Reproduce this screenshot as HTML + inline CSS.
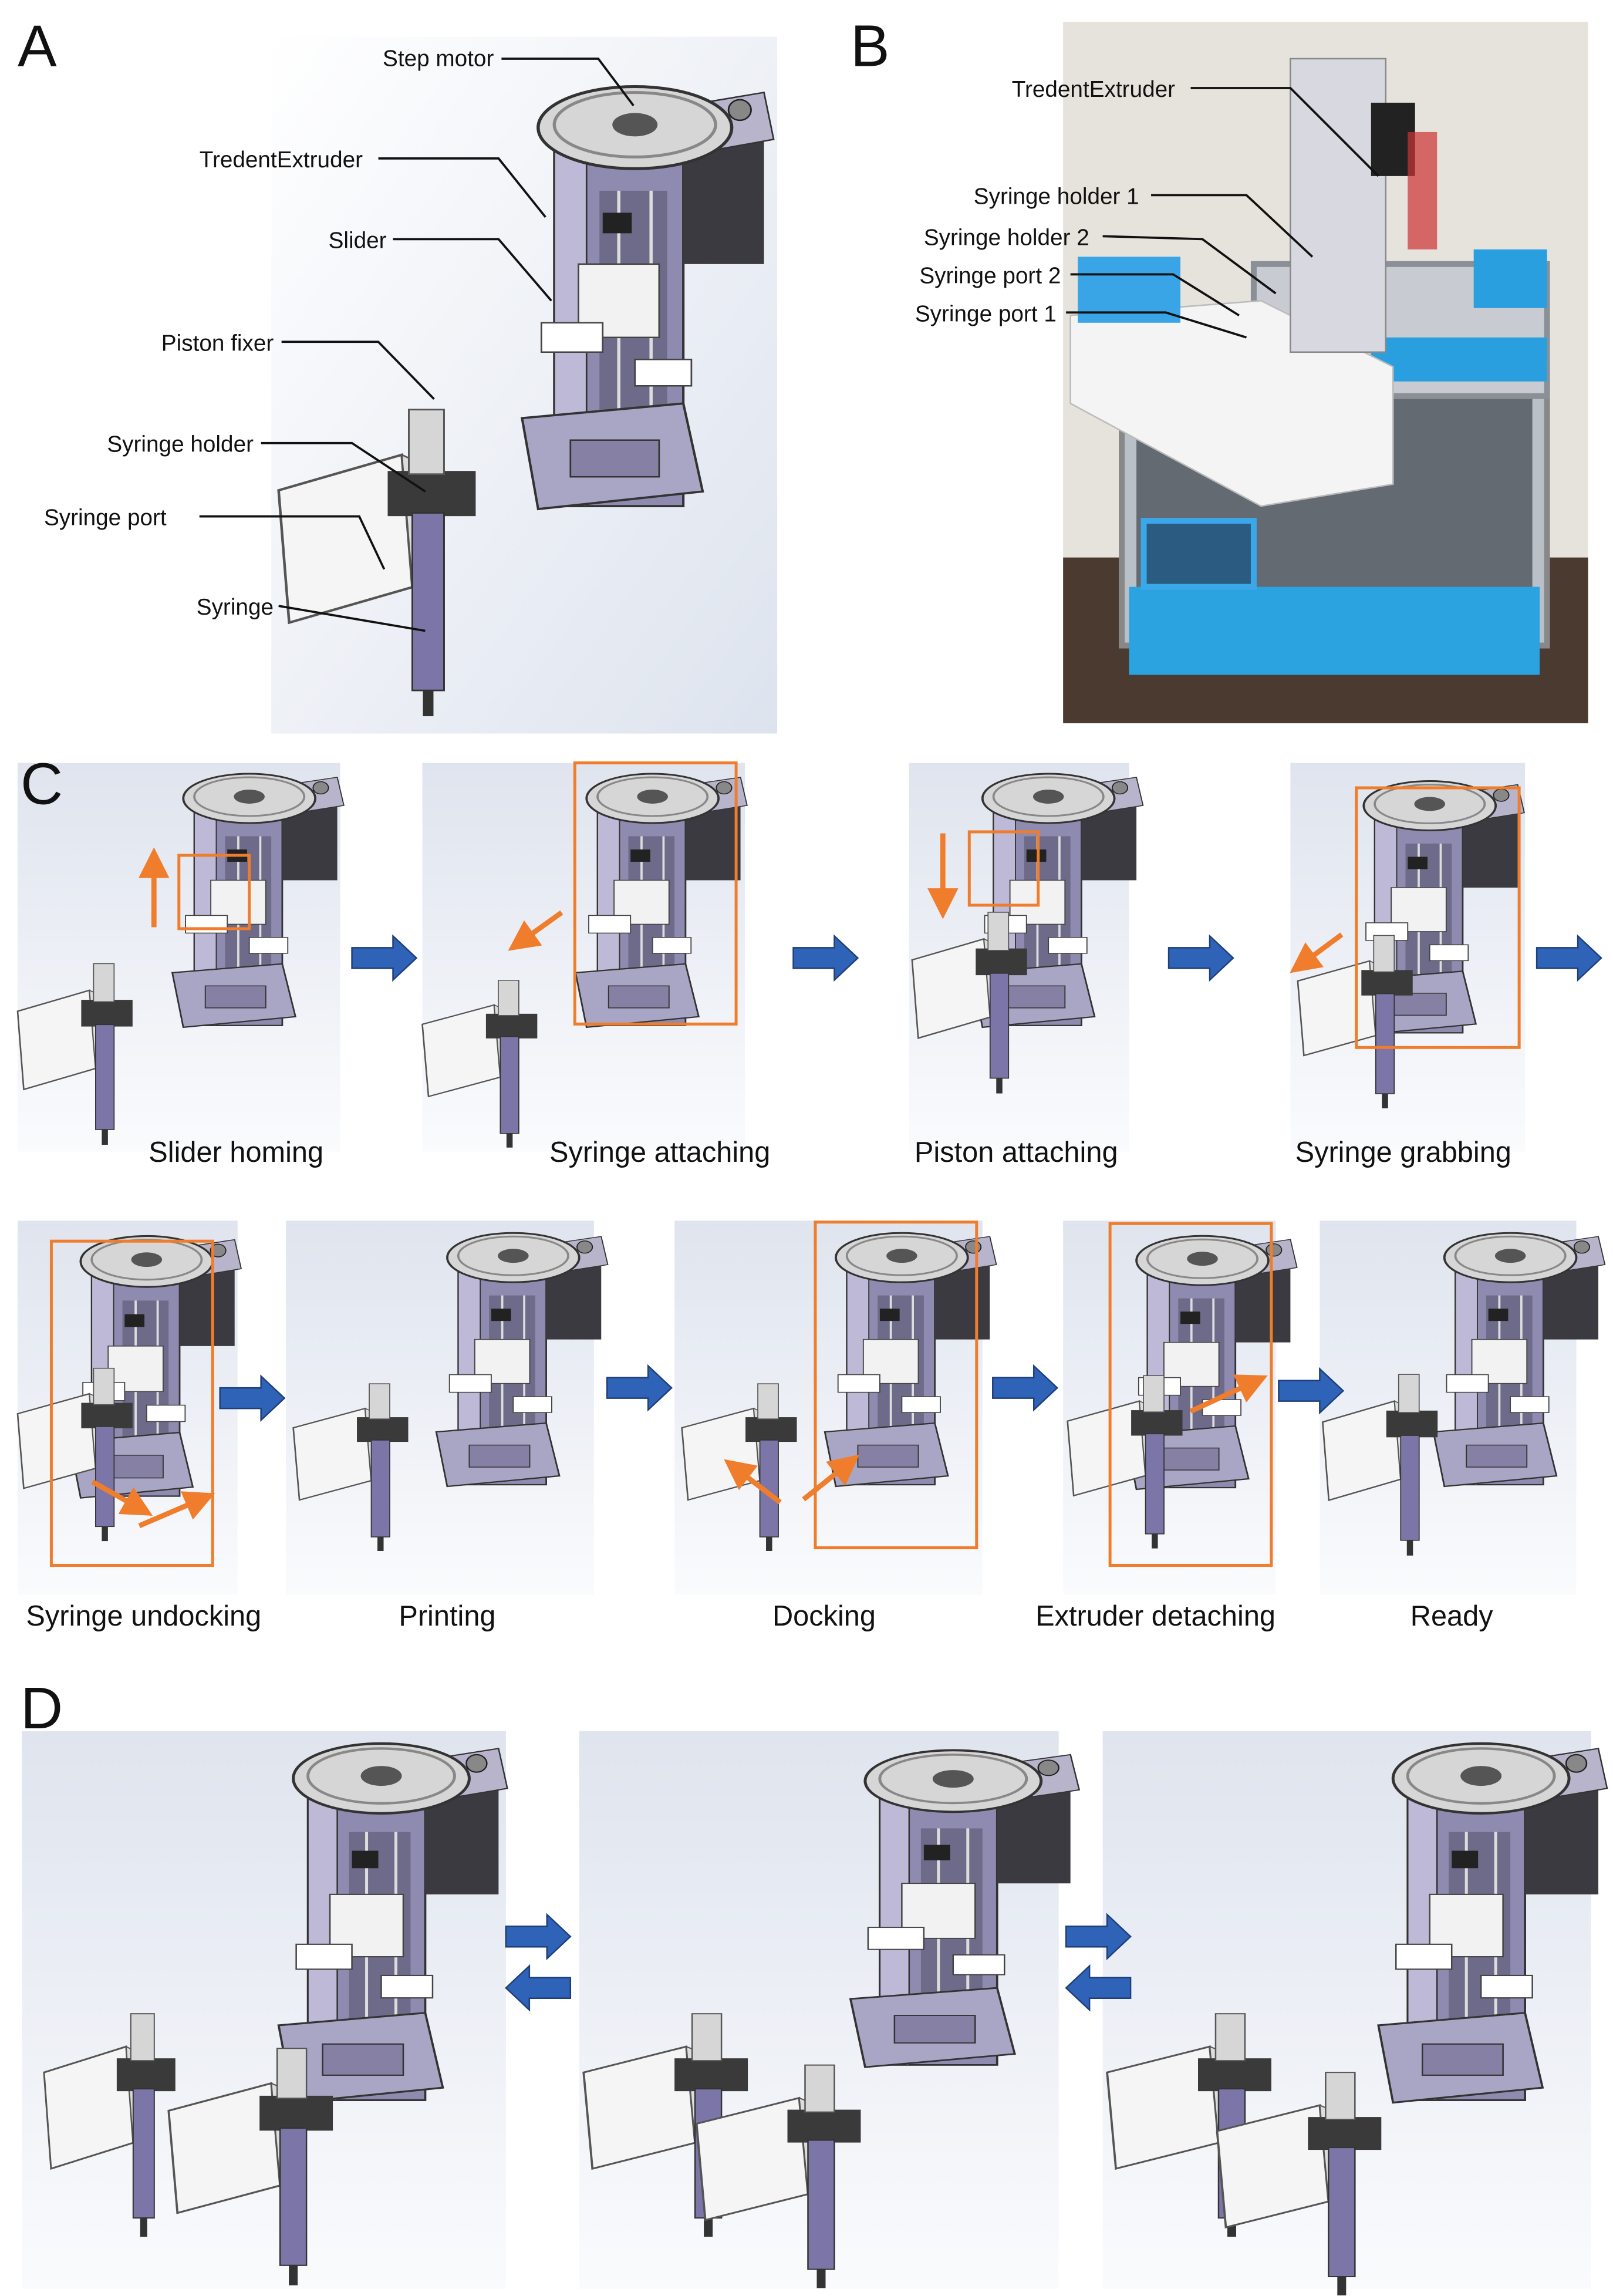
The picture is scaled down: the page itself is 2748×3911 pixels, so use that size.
<!DOCTYPE html>
<html><head><meta charset="utf-8"><style>
html,body{margin:0;padding:0;background:#fff}
svg{display:block}
text{font-family:"Liberation Sans",Arial,sans-serif;fill:#111}
</style></head><body>
<svg width="2748" height="3911" viewBox="0 0 1100 1565" preserveAspectRatio="none" xmlns="http://www.w3.org/2000/svg">
<defs>
<linearGradient id="bg" x1="0" y1="0" x2="1" y2="1">
<stop offset="0" stop-color="#ffffff"/><stop offset="1" stop-color="#dde3ee"/></linearGradient>
<linearGradient id="bgv" x1="0" y1="0" x2="0" y2="1">
<stop offset="0" stop-color="#dfe4ee"/><stop offset="1" stop-color="#fafbfd"/></linearGradient>
<marker id="ob" markerWidth="6" markerHeight="6" refX="3" refY="3" orient="auto"><path d="M0,0 L6,3 L0,6z" fill="#ef7d2c"/></marker>
<g id="ext">
<rect x="30" y="40" width="80" height="250" fill="#8f8bb0" stroke="#333" stroke-width="1.5"/>
<rect x="30" y="40" width="20" height="250" fill="#bdb9d6" stroke="#333" stroke-width="1"/>
<rect x="58" y="75" width="42" height="150" fill="#6e6a8a"/>
<line x1="70" y1="75" x2="70" y2="225" stroke="#ddd" stroke-width="2"/>
<line x1="90" y1="75" x2="90" y2="225" stroke="#ddd" stroke-width="2"/>
<rect x="110" y="30" width="50" height="95" fill="#3b3a40"/>
<polygon points="95,20 160,8 166,40 105,52" fill="#b8b4cc" stroke="#333"/>
<circle cx="145" cy="20" r="7" fill="#888" stroke="#222"/>
<ellipse cx="80" cy="32" rx="60" ry="28" fill="#d6d6d6" stroke="#333" stroke-width="2"/>
<ellipse cx="80" cy="30" rx="50" ry="22" fill="none" stroke="#888" stroke-width="2"/>
<ellipse cx="80" cy="30" rx="14" ry="8" fill="#555"/>
<rect x="45" y="125" width="50" height="50" fill="#f2f2f2" stroke="#444"/>
<rect x="22" y="165" width="38" height="20" fill="#fff" stroke="#444"/>
<rect x="80" y="190" width="35" height="18" fill="#fff" stroke="#444"/>
<polygon points="10,230 110,220 122,280 20,292" fill="#a9a5c4" stroke="#333" stroke-width="1.5"/>
<rect x="40" y="245" width="55" height="25" fill="#8580a4" stroke="#333"/>
<rect x="60" y="90" width="18" height="14" fill="#222"/>
</g>
<g id="syr">
<polygon points="0,22 70,0 76,82 6,104" fill="#f5f5f5" stroke="#555" stroke-width="1.5"/>
<polygon points="70,0 78,4 84,84 76,82" fill="#ddd" stroke="#555"/>
<rect x="62" y="10" width="50" height="28" fill="#3a3a3a"/>
<rect x="74" y="-28" width="20" height="40" fill="#d6d6d6" stroke="#555"/>
<rect x="76" y="36" width="18" height="110" fill="#7c76a8" stroke="#333"/>
<rect x="82" y="146" width="6" height="16" fill="#333"/>
</g>
</defs>

<!-- Panel A -->
<rect x="185" y="25" width="345" height="475" fill="url(#bg)"/>
<use href="#ext" transform="translate(345,55) scale(1.1,1.0)"/>
<use href="#syr" transform="translate(190,310) scale(1.2,1.1)"/>
<g font-size="15.5">
<text x="261" y="45">Step motor</text>
<text x="136" y="114">TredentExtruder</text>
<text x="224" y="169">Slider</text>
<text x="110" y="239">Piston fixer</text>
<text x="73" y="308">Syringe holder</text>
<text x="30" y="358">Syringe port</text>
<text x="134" y="419">Syringe</text>
</g>
<g stroke="#111" stroke-width="1.5" fill="none">
<polyline points="342,40 408,40 432,72"/>
<polyline points="258,108 340,108 372,148"/>
<polyline points="268,163 340,163 376,205"/>
<polyline points="192,233 258,233 296,272"/>
<polyline points="178,302 240,302 290,335"/>
<polyline points="136,352 245,352 262,388"/>
<polyline points="190,413 290,430"/>
</g>

<!-- Panel B -->
<rect x="725" y="15" width="358" height="478" fill="#e6e2dc"/>
<rect x="725" y="380" width="358" height="113" fill="#4a3a30"/>
<rect x="765" y="250" width="290" height="190" fill="#b9c0c8" stroke="#888" stroke-width="4"/>
<rect x="775" y="260" width="270" height="170" fill="#2b3038" opacity="0.6"/>
<rect x="770" y="400" width="280" height="60" fill="#2aa3e0"/>
<rect x="780" y="355" width="75" height="45" fill="#2b5b80" stroke="#3aa8e8" stroke-width="4"/>
<rect x="855" y="180" width="200" height="90" fill="#c8ccd2" stroke="#8a9096" stroke-width="4"/>
<rect x="935" y="230" width="120" height="30" fill="#2a9fe0"/>
<polygon points="730,215 860,205 950,250 950,330 860,345 730,275" fill="#f4f4f4" stroke="#bbb"/>
<rect x="735" y="175" width="70" height="45" fill="#3aa5e6"/>
<rect x="880" y="40" width="65" height="200" fill="#d8d8e0" stroke="#888"/>
<rect x="935" y="70" width="30" height="50" fill="#222"/>
<rect x="960" y="90" width="20" height="80" fill="#c33" opacity="0.7"/>
<rect x="1005" y="170" width="50" height="40" fill="#2a9fe0"/>
<g font-size="15.5">
<text x="690" y="66">TredentExtruder</text>
<text x="664" y="139">Syringe holder 1</text>
<text x="630" y="167">Syringe holder 2</text>
<text x="627" y="193">Syringe port 2</text>
<text x="624" y="219">Syringe port 1</text>
</g>
<g stroke="#111" stroke-width="1.5" fill="none">
<polyline points="812,60 880,60 940,120"/>
<polyline points="785,133 850,133 895,175"/>
<polyline points="752,161 820,163 870,200"/>
<polyline points="730,187 800,187 845,215"/>
<polyline points="727,213 795,213 850,230"/>
</g>

<!-- Panel C -->
<rect x="12" y="520" width="220" height="265" fill="url(#bgv)"/>
<rect x="288" y="520" width="220" height="265" fill="url(#bgv)"/>
<rect x="620" y="520" width="150" height="265" fill="url(#bgv)"/>
<rect x="880" y="520" width="160" height="265" fill="url(#bgv)"/>
<use href="#ext" transform="translate(110,525) scale(0.75,0.6)"/>
<use href="#syr" transform="translate(12,675) scale(0.7,0.65)"/>
<use href="#ext" transform="translate(385,525) scale(0.75,0.6)"/>
<use href="#syr" transform="translate(288,685) scale(0.7,0.6)"/>
<use href="#ext" transform="translate(655,525) scale(0.75,0.6)"/>
<use href="#syr" transform="translate(622,640) scale(0.7,0.65)"/>
<use href="#ext" transform="translate(915,530) scale(0.75,0.6)"/>
<use href="#syr" transform="translate(885,655) scale(0.7,0.62)"/>

<rect x="12" y="832" width="150" height="255" fill="url(#bgv)"/>
<rect x="195" y="832" width="210" height="255" fill="url(#bgv)"/>
<rect x="460" y="832" width="210" height="255" fill="url(#bgv)"/>
<rect x="725" y="832" width="145" height="255" fill="url(#bgv)"/>
<rect x="900" y="832" width="175" height="255" fill="url(#bgv)"/>
<use href="#ext" transform="translate(40,840) scale(0.75,0.62)"/>
<use href="#syr" transform="translate(12,950) scale(0.7,0.62)"/>
<use href="#ext" transform="translate(290,838) scale(0.75,0.6)"/>
<use href="#syr" transform="translate(200,960) scale(0.7,0.6)"/>
<use href="#ext" transform="translate(555,838) scale(0.75,0.6)"/>
<use href="#syr" transform="translate(465,960) scale(0.7,0.6)"/>
<use href="#ext" transform="translate(760,840) scale(0.75,0.6)"/>
<use href="#syr" transform="translate(728,955) scale(0.7,0.62)"/>
<use href="#ext" transform="translate(970,838) scale(0.75,0.6)"/>
<use href="#syr" transform="translate(902,955) scale(0.7,0.65)"/>

<g fill="none" stroke="#ef7d2c" stroke-width="2">
<rect x="122" y="583" width="48" height="50"/>
<rect x="392" y="520" width="110" height="178"/>
<rect x="661" y="567" width="47" height="50"/>
<rect x="925" y="537" width="111" height="177"/>
<rect x="35" y="846" width="110" height="221"/>
<rect x="556" y="833" width="110" height="222"/>
<rect x="757" y="834" width="110" height="233"/>
</g>
<g stroke="#ef7d2c" stroke-width="3.5" marker-end="url(#ob)">
<line x1="105" y1="632" x2="105" y2="588"/>
<line x1="383" y1="622" x2="355" y2="642"/>
<line x1="643" y1="568" x2="643" y2="616"/>
<line x1="915" y1="637" x2="888" y2="657"/>
<line x1="63" y1="1010" x2="95" y2="1028"/>
<line x1="95" y1="1040" x2="137" y2="1022"/>
<line x1="532" y1="1024" x2="502" y2="1001"/>
<line x1="548" y1="1022" x2="578" y2="998"/>
<line x1="812" y1="962" x2="855" y2="942"/>
</g>
<g fill="#2f63b8" stroke="#1f3f7a" stroke-width="1">
<polygon points="240,646 268,646 268,638 284,653 268,668 268,660 240,660"/>
<polygon points="541,646 569,646 569,638 585,653 569,668 569,660 541,660"/>
<polygon points="797,646 825,646 825,638 841,653 825,668 825,660 797,660"/>
<polygon points="1048,646 1076,646 1076,638 1092,653 1076,668 1076,660 1048,660"/>
<polygon points="150,946 178,946 178,938 194,953 178,968 178,960 150,960"/>
<polygon points="414,939 442,939 442,931 458,946 442,961 442,953 414,953"/>
<polygon points="677,939 705,939 705,931 721,946 705,961 705,953 677,953"/>
<polygon points="872,941 900,941 900,933 916,948 900,963 900,955 872,955"/>
</g>
<g font-size="19.5" text-anchor="middle">
<text x="161" y="792">Slider homing</text>
<text x="450" y="792">Syringe attaching</text>
<text x="693" y="792">Piston attaching</text>
<text x="957" y="792">Syringe grabbing</text>
<text x="98" y="1108">Syringe undocking</text>
<text x="305" y="1108">Printing</text>
<text x="562" y="1108">Docking</text>
<text x="788" y="1108">Extruder detaching</text>
<text x="990" y="1108">Ready</text>
</g>

<!-- Panel D -->
<rect x="15" y="1180" width="330" height="380" fill="url(#bgv)"/>
<rect x="395" y="1180" width="327" height="380" fill="url(#bgv)"/>
<rect x="752" y="1180" width="333" height="380" fill="url(#bgv)"/>
<use href="#ext" transform="translate(180,1185) scale(1.0,0.85)"/>
<use href="#syr" transform="translate(30,1395) scale(0.8,0.8)"/>
<use href="#syr" transform="translate(115,1420) scale(1.0,0.85)"/>
<use href="#ext" transform="translate(570,1190) scale(1.0,0.75)"/>
<use href="#syr" transform="translate(398,1395) scale(1.0,0.8)"/>
<use href="#syr" transform="translate(475,1430) scale(1.0,0.8)"/>
<use href="#ext" transform="translate(930,1185) scale(1.0,0.85)"/>
<use href="#syr" transform="translate(755,1395) scale(1.0,0.8)"/>
<use href="#syr" transform="translate(830,1435) scale(1.0,0.8)"/>
<g fill="#2f63b8" stroke="#1f3f7a" stroke-width="1">
<polygon points="345,1313 373,1313 373,1305 389,1320 373,1335 373,1327 345,1327"/>
<polygon points="389,1348 361,1348 361,1340 345,1355 361,1370 361,1362 389,1362"/>
<polygon points="727,1313 755,1313 755,1305 771,1320 755,1335 755,1327 727,1327"/>
<polygon points="771,1348 743,1348 743,1340 727,1355 743,1370 743,1362 771,1362"/>
</g>

<!-- panel letters on top -->
<text x="12" y="45" font-size="40">A</text>
<text x="580" y="45" font-size="40">B</text>
<text x="14" y="548" font-size="40">C</text>
<text x="14" y="1178" font-size="40">D</text>
</svg>
</body></html>
